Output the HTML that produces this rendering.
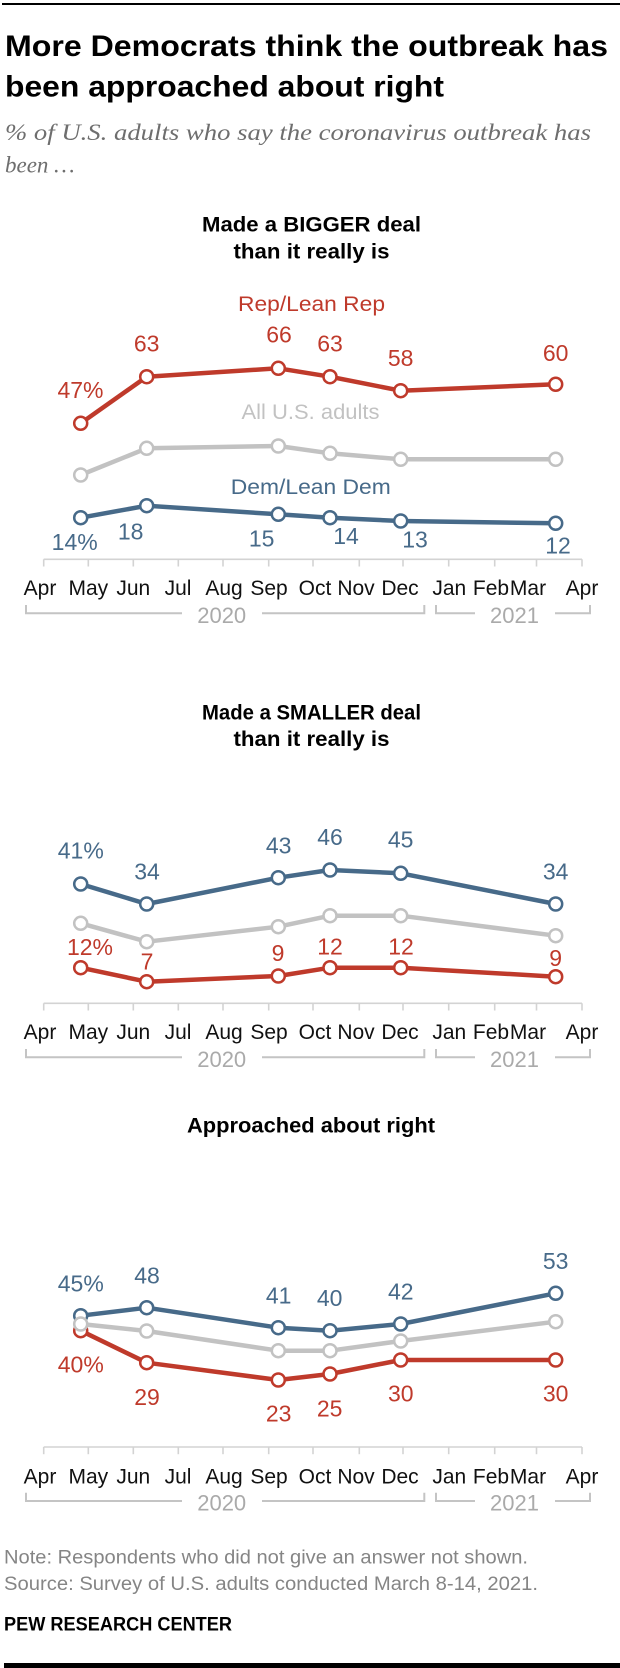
<!DOCTYPE html>
<html>
<head>
<meta charset="utf-8">
<style>
  html,body{margin:0;padding:0;background:#fff;}
  svg{display:block;}
  .t{font-family:"Liberation Sans",sans-serif;}
  .mon{font-family:"Liberation Sans",sans-serif;font-size:21px;fill:#111;text-anchor:middle;}
  .yr{font-family:"Liberation Sans",sans-serif;font-size:22px;fill:#aaaaaa;text-anchor:middle;}
  .dl{font-family:"Liberation Sans",sans-serif;font-size:23px;text-anchor:middle;}
  .rep{fill:#bf3a2b;}
  .dem{fill:#476a89;}
  .ct{font-family:"Liberation Sans",sans-serif;font-weight:bold;font-size:21px;fill:#000;text-anchor:middle;}
</style>
</head>
<body>
<svg width="620" height="1668" viewBox="0 0 620 1668" xmlns="http://www.w3.org/2000/svg">
  <rect x="0" y="0" width="620" height="1668" fill="#fff"/>
  <rect x="2" y="3" width="618" height="2" fill="#000"/>

  <text class="t" x="5" y="56" font-size="30" font-weight="bold" fill="#000" textLength="603" lengthAdjust="spacingAndGlyphs">More Democrats think the outbreak has</text>
  <text class="t" x="5" y="96.5" font-size="30" font-weight="bold" fill="#000" textLength="439" lengthAdjust="spacingAndGlyphs">been approached about right</text>
  <text x="5" y="140" font-family="'Liberation Serif',serif" font-style="italic" font-size="23" fill="#6e6e6e" textLength="586" lengthAdjust="spacingAndGlyphs">% of U.S. adults who say the coronavirus outbreak has</text>
  <text x="5" y="172.5" font-family="'Liberation Serif',serif" font-style="italic" font-size="23" fill="#6e6e6e">been …</text>

  <!-- ============ CHART 1 ============ -->
  <text class="ct" x="311.5" y="231.7" textLength="219" lengthAdjust="spacingAndGlyphs">Made a BIGGER deal</text>
  <text class="ct" x="311.5" y="258.3" textLength="156" lengthAdjust="spacingAndGlyphs">than it really is</text>

  <g>
    <line x1="43.7" y1="559.3" x2="582" y2="559.3" stroke="#d3d3d3" stroke-width="1.6"/>
    <g stroke="#d3d3d3" stroke-width="1.6">
      <line x1="43.7" y1="559.3" x2="43.7" y2="566.5"/>
      <line x1="88.3" y1="559.3" x2="88.3" y2="566.5"/>
      <line x1="133.3" y1="559.3" x2="133.3" y2="566.5"/>
      <line x1="178.3" y1="559.3" x2="178.3" y2="566.5"/>
      <line x1="223" y1="559.3" x2="223" y2="566.5"/>
      <line x1="268.7" y1="559.3" x2="268.7" y2="566.5"/>
      <line x1="313" y1="559.3" x2="313" y2="566.5"/>
      <line x1="359.3" y1="559.3" x2="359.3" y2="566.5"/>
      <line x1="403" y1="559.3" x2="403" y2="566.5"/>
      <line x1="448.7" y1="559.3" x2="448.7" y2="566.5"/>
      <line x1="494.7" y1="559.3" x2="494.7" y2="566.5"/>
      <line x1="536.5" y1="559.3" x2="536.5" y2="566.5"/>
      <line x1="582" y1="559.3" x2="582" y2="566.5"/>
    </g>
    <text class="mon" x="40" y="595">Apr</text>
    <text class="mon" x="88.3" y="595">May</text>
    <text class="mon" x="133.3" y="595">Jun</text>
    <text class="mon" x="178" y="595">Jul</text>
    <text class="mon" x="224" y="595">Aug</text>
    <text class="mon" x="269" y="595">Sep</text>
    <text class="mon" x="315" y="595">Oct</text>
    <text class="mon" x="356" y="595">Nov</text>
    <text class="mon" x="400" y="595">Dec</text>
    <text class="mon" x="449.3" y="595">Jan</text>
    <text class="mon" x="491" y="595">Feb</text>
    <text class="mon" x="528" y="595">Mar</text>
    <text class="mon" x="582" y="595">Apr</text>
    <path d="M26,605 V613.3 H182 M262,613.3 H424.3 V605" fill="none" stroke="#c4c4c4" stroke-width="2"/>
    <path d="M436,605 V613.3 H475 M555,613.3 H590 V605" fill="none" stroke="#c4c4c4" stroke-width="2"/>
    <text class="yr" x="221.7" y="623">2020</text>
    <text class="yr" x="514.5" y="623">2021</text>
  </g>

  <polyline points="80.7,423.3 146.7,376.7 278.3,368.3 330,376.7 400.7,390.7 555.7,384.3" fill="none" stroke="#bf3a2b" stroke-width="4.5" stroke-linejoin="round"/>
  <polyline points="80.7,475 146.7,448.3 278.3,446 330,453.3 400.7,459.3 555.7,459.3" fill="none" stroke="#c2c2c2" stroke-width="4.5" stroke-linejoin="round"/>
  <polyline points="80.7,517.7 146.7,505.7 278.3,514.3 330,517.7 400.7,521 555.7,523.3" fill="none" stroke="#476a89" stroke-width="4.5" stroke-linejoin="round"/>
  <g fill="#fff" stroke-width="2.5">
    <g stroke="#bf3a2b">
      <circle cx="80.7" cy="423.3" r="6.5"/><circle cx="146.7" cy="376.7" r="6.5"/><circle cx="278.3" cy="368.3" r="6.5"/>
      <circle cx="330" cy="376.7" r="6.5"/><circle cx="400.7" cy="390.7" r="6.5"/><circle cx="555.7" cy="384.3" r="6.5"/>
    </g>
    <g stroke="#c2c2c2">
      <circle cx="80.7" cy="475" r="6.5"/><circle cx="146.7" cy="448.3" r="6.5"/><circle cx="278.3" cy="446" r="6.5"/>
      <circle cx="330" cy="453.3" r="6.5"/><circle cx="400.7" cy="459.3" r="6.5"/><circle cx="555.7" cy="459.3" r="6.5"/>
    </g>
    <g stroke="#476a89">
      <circle cx="80.7" cy="517.7" r="6.5"/><circle cx="146.7" cy="505.7" r="6.5"/><circle cx="278.3" cy="514.3" r="6.5"/>
      <circle cx="330" cy="517.7" r="6.5"/><circle cx="400.7" cy="521" r="6.5"/><circle cx="555.7" cy="523.3" r="6.5"/>
    </g>
  </g>
  <text class="t" x="311.5" y="311" font-size="21" fill="#bf3a2b" text-anchor="middle" textLength="147" lengthAdjust="spacingAndGlyphs">Rep/Lean Rep</text>
  <text class="t" x="310.5" y="419" font-size="21" fill="#c2c2c2" text-anchor="middle" textLength="138" lengthAdjust="spacingAndGlyphs">All U.S. adults</text>
  <text class="t" x="310.8" y="494" font-size="21" fill="#476a89" text-anchor="middle" textLength="160" lengthAdjust="spacingAndGlyphs">Dem/Lean Dem</text>
  <g class="dl rep">
    <text x="80.5" y="398">47%</text>
    <text x="146.7" y="351.7">63</text>
    <text x="279" y="342.7">66</text>
    <text x="330" y="351.7">63</text>
    <text x="400.7" y="366">58</text>
    <text x="555.7" y="361">60</text>
  </g>
  <g class="dl dem">
    <text x="74.7" y="550">14%</text>
    <text x="130.7" y="539.3">18</text>
    <text x="261.7" y="546.7">15</text>
    <text x="346" y="544">14</text>
    <text x="415" y="547.3">13</text>
    <text x="558" y="553.3">12</text>
  </g>

  <!-- ============ CHART 2 ============ -->
  <text class="ct" x="311.5" y="719.3" textLength="219" lengthAdjust="spacingAndGlyphs">Made a SMALLER deal</text>
  <text class="ct" x="311.5" y="746" textLength="156" lengthAdjust="spacingAndGlyphs">than it really is</text>

  <g transform="translate(0,444)">
    <line x1="43.7" y1="559.3" x2="582" y2="559.3" stroke="#d3d3d3" stroke-width="1.6"/>
    <g stroke="#d3d3d3" stroke-width="1.6">
      <line x1="43.7" y1="559.3" x2="43.7" y2="566.5"/>
      <line x1="88.3" y1="559.3" x2="88.3" y2="566.5"/>
      <line x1="133.3" y1="559.3" x2="133.3" y2="566.5"/>
      <line x1="178.3" y1="559.3" x2="178.3" y2="566.5"/>
      <line x1="223" y1="559.3" x2="223" y2="566.5"/>
      <line x1="268.7" y1="559.3" x2="268.7" y2="566.5"/>
      <line x1="313" y1="559.3" x2="313" y2="566.5"/>
      <line x1="359.3" y1="559.3" x2="359.3" y2="566.5"/>
      <line x1="403" y1="559.3" x2="403" y2="566.5"/>
      <line x1="448.7" y1="559.3" x2="448.7" y2="566.5"/>
      <line x1="494.7" y1="559.3" x2="494.7" y2="566.5"/>
      <line x1="536.5" y1="559.3" x2="536.5" y2="566.5"/>
      <line x1="582" y1="559.3" x2="582" y2="566.5"/>
    </g>
    <text class="mon" x="40" y="595">Apr</text>
    <text class="mon" x="88.3" y="595">May</text>
    <text class="mon" x="133.3" y="595">Jun</text>
    <text class="mon" x="178" y="595">Jul</text>
    <text class="mon" x="224" y="595">Aug</text>
    <text class="mon" x="269" y="595">Sep</text>
    <text class="mon" x="315" y="595">Oct</text>
    <text class="mon" x="356" y="595">Nov</text>
    <text class="mon" x="400" y="595">Dec</text>
    <text class="mon" x="449.3" y="595">Jan</text>
    <text class="mon" x="491" y="595">Feb</text>
    <text class="mon" x="528" y="595">Mar</text>
    <text class="mon" x="582" y="595">Apr</text>
    <path d="M26,605 V613.3 H182 M262,613.3 H424.3 V605" fill="none" stroke="#c4c4c4" stroke-width="2"/>
    <path d="M436,605 V613.3 H475 M555,613.3 H590 V605" fill="none" stroke="#c4c4c4" stroke-width="2"/>
    <text class="yr" x="221.7" y="623">2020</text>
    <text class="yr" x="514.5" y="623">2021</text>
  </g>

  <polyline points="80.7,967.7 146.7,981.7 278.3,976 330,967.7 400.7,967.7 555.7,976.7" fill="none" stroke="#bf3a2b" stroke-width="4.5" stroke-linejoin="round"/>
  <polyline points="80.7,923.3 146.7,941.7 278.3,926.7 330,915.7 400.7,915.7 555.7,935.7" fill="none" stroke="#c2c2c2" stroke-width="4.5" stroke-linejoin="round"/>
  <polyline points="80.7,884 146.7,904 278.3,877.7 330,870 400.7,873.3 555.7,904" fill="none" stroke="#476a89" stroke-width="4.5" stroke-linejoin="round"/>
  <g fill="#fff" stroke-width="2.5">
    <g stroke="#bf3a2b">
      <circle cx="80.7" cy="967.7" r="6.5"/><circle cx="146.7" cy="981.7" r="6.5"/><circle cx="278.3" cy="976" r="6.5"/>
      <circle cx="330" cy="967.7" r="6.5"/><circle cx="400.7" cy="967.7" r="6.5"/><circle cx="555.7" cy="976.7" r="6.5"/>
    </g>
    <g stroke="#c2c2c2">
      <circle cx="80.7" cy="923.3" r="6.5"/><circle cx="146.7" cy="941.7" r="6.5"/><circle cx="278.3" cy="926.7" r="6.5"/>
      <circle cx="330" cy="915.7" r="6.5"/><circle cx="400.7" cy="915.7" r="6.5"/><circle cx="555.7" cy="935.7" r="6.5"/>
    </g>
    <g stroke="#476a89">
      <circle cx="80.7" cy="884" r="6.5"/><circle cx="146.7" cy="904" r="6.5"/><circle cx="278.3" cy="877.7" r="6.5"/>
      <circle cx="330" cy="870" r="6.5"/><circle cx="400.7" cy="873.3" r="6.5"/><circle cx="555.7" cy="904" r="6.5"/>
    </g>
  </g>
  <g class="dl dem">
    <text x="80.8" y="858.3">41%</text>
    <text x="147" y="879.3">34</text>
    <text x="278.7" y="853.3">43</text>
    <text x="330" y="845">46</text>
    <text x="400.7" y="847.7">45</text>
    <text x="555.7" y="879.3">34</text>
  </g>
  <g class="dl rep">
    <text x="90" y="955">12%</text>
    <text x="147" y="969.3">7</text>
    <text x="278" y="961">9</text>
    <text x="330" y="954.3">12</text>
    <text x="401" y="954.3">12</text>
    <text x="555.7" y="966">9</text>
  </g>

  <!-- ============ CHART 3 ============ -->
  <text class="ct" x="311" y="1132.7" textLength="248" lengthAdjust="spacingAndGlyphs">Approached about right</text>

  <g transform="translate(0,887.7)">
    <line x1="43.7" y1="559.3" x2="582" y2="559.3" stroke="#d3d3d3" stroke-width="1.6"/>
    <g stroke="#d3d3d3" stroke-width="1.6">
      <line x1="43.7" y1="559.3" x2="43.7" y2="566.5"/>
      <line x1="88.3" y1="559.3" x2="88.3" y2="566.5"/>
      <line x1="133.3" y1="559.3" x2="133.3" y2="566.5"/>
      <line x1="178.3" y1="559.3" x2="178.3" y2="566.5"/>
      <line x1="223" y1="559.3" x2="223" y2="566.5"/>
      <line x1="268.7" y1="559.3" x2="268.7" y2="566.5"/>
      <line x1="313" y1="559.3" x2="313" y2="566.5"/>
      <line x1="359.3" y1="559.3" x2="359.3" y2="566.5"/>
      <line x1="403" y1="559.3" x2="403" y2="566.5"/>
      <line x1="448.7" y1="559.3" x2="448.7" y2="566.5"/>
      <line x1="494.7" y1="559.3" x2="494.7" y2="566.5"/>
      <line x1="536.5" y1="559.3" x2="536.5" y2="566.5"/>
      <line x1="582" y1="559.3" x2="582" y2="566.5"/>
    </g>
    <text class="mon" x="40" y="596">Apr</text>
    <text class="mon" x="88.3" y="596">May</text>
    <text class="mon" x="133.3" y="596">Jun</text>
    <text class="mon" x="178" y="596">Jul</text>
    <text class="mon" x="224" y="596">Aug</text>
    <text class="mon" x="269" y="596">Sep</text>
    <text class="mon" x="315" y="596">Oct</text>
    <text class="mon" x="356" y="596">Nov</text>
    <text class="mon" x="400" y="596">Dec</text>
    <text class="mon" x="449.3" y="596">Jan</text>
    <text class="mon" x="491" y="596">Feb</text>
    <text class="mon" x="528" y="596">Mar</text>
    <text class="mon" x="582" y="596">Apr</text>
    <path d="M26,605 V613.3 H182 M262,613.3 H424.3 V605" fill="none" stroke="#c4c4c4" stroke-width="2"/>
    <path d="M436,605 V613.3 H475 M555,613.3 H590 V605" fill="none" stroke="#c4c4c4" stroke-width="2"/>
    <text class="yr" x="221.7" y="623">2020</text>
    <text class="yr" x="514.5" y="623">2021</text>
  </g>

  <polyline points="80.7,1330.7 146.7,1362.7 278.3,1380 330,1374 400.7,1360 555.7,1360" fill="none" stroke="#bf3a2b" stroke-width="4.5" stroke-linejoin="round"/>
  <polyline points="80.7,1315.7 146.7,1307.7 278.3,1327.7 330,1330.7 400.7,1324 555.7,1293.3" fill="none" stroke="#476a89" stroke-width="4.5" stroke-linejoin="round"/>
  <polyline points="80.7,1324 146.7,1331 278.3,1350.7 330,1350.7 400.7,1341 555.7,1321.7" fill="none" stroke="#c2c2c2" stroke-width="4.5" stroke-linejoin="round"/>
  <g fill="#fff" stroke-width="2.5">
    <g stroke="#bf3a2b">
      <circle cx="80.7" cy="1330.7" r="6.5"/><circle cx="146.7" cy="1362.7" r="6.5"/><circle cx="278.3" cy="1380" r="6.5"/>
      <circle cx="330" cy="1374" r="6.5"/><circle cx="400.7" cy="1360" r="6.5"/><circle cx="555.7" cy="1360" r="6.5"/>
    </g>
    <g stroke="#476a89">
      <circle cx="80.7" cy="1315.7" r="6.5"/><circle cx="146.7" cy="1307.7" r="6.5"/><circle cx="278.3" cy="1327.7" r="6.5"/>
      <circle cx="330" cy="1330.7" r="6.5"/><circle cx="400.7" cy="1324" r="6.5"/><circle cx="555.7" cy="1293.3" r="6.5"/>
    </g>
    <g stroke="#c2c2c2">
      <circle cx="80.7" cy="1324" r="6.5"/><circle cx="146.7" cy="1331" r="6.5"/><circle cx="278.3" cy="1350.7" r="6.5"/>
      <circle cx="330" cy="1350.7" r="6.5"/><circle cx="400.7" cy="1341" r="6.5"/><circle cx="555.7" cy="1321.7" r="6.5"/>
    </g>
  </g>
  <g class="dl dem">
    <text x="80.8" y="1291.7">45%</text>
    <text x="147" y="1283.3">48</text>
    <text x="278.7" y="1303.3">41</text>
    <text x="329.7" y="1306">40</text>
    <text x="400.8" y="1299.3">42</text>
    <text x="555.7" y="1269">53</text>
  </g>
  <g class="dl rep">
    <text x="80.8" y="1372.3">40%</text>
    <text x="147" y="1405">29</text>
    <text x="278.7" y="1421.7">23</text>
    <text x="329.7" y="1416.7">25</text>
    <text x="400.8" y="1401.7">30</text>
    <text x="555.7" y="1401.7">30</text>
  </g>

  <!-- Footer -->
  <text class="t" x="4" y="1563.3" font-size="19" fill="#858585" textLength="524" lengthAdjust="spacingAndGlyphs">Note: Respondents who did not give an answer not shown.</text>
  <text class="t" x="4" y="1590" font-size="19" fill="#858585" textLength="534" lengthAdjust="spacingAndGlyphs">Source: Survey of U.S. adults conducted March 8-14, 2021.</text>
  <text class="t" x="4" y="1630.7" font-size="19" font-weight="bold" fill="#000" textLength="228" lengthAdjust="spacingAndGlyphs">PEW RESEARCH CENTER</text>
  <rect x="4" y="1663" width="616" height="5" fill="#000"/>
</svg>
</body>
</html>
